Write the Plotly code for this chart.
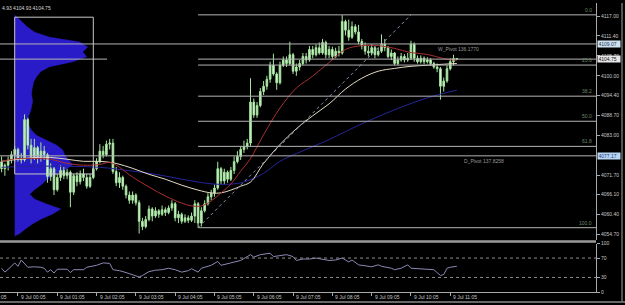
import pandas as pd
import plotly.graph_objects as go

# ---------------- data ----------------
BAR0 = pd.Timestamp("2021-07-08 23:40")
STEP = pd.Timedelta(minutes=5)

opens = [
4075.5,4073.5,4074.5,4076,4077.5,4079,4076.5,4076,4087.5,4080.2,
4077,4079.5,4077,4078.5,4077.5,4071.3,4073.5,4067.5,4071,4073,
4071.5,4072.5,4066.8,4071.5,4069.8,4072,4071,4068.5,4071,4073.5,
4075.5,4078.5,4077.5,4080.5,4080.8,4072.7,4069.5,4071,4068.5,4066,
4064.5,4066,4063.8,4058.5,4057,4059,4062,4060,4061.5,4060.5,
4061.8,4061,4062.3,4063.5,4059.5,4060.5,4058.5,4059.5,4058.8,4060,
4063.5,4058,4061.5,4063.5,4065.5,4066.5,4068,4073.5,4070,4072.5,
4070.5,4073,4075.5,4077,4079,4079.8,4080.8,4092.5,4088.8,4091.5,
4095.5,4097,4099,4103,4100.5,4098,4103,4104.5,4103.5,4106,
4101.3,4102.5,4103.5,4105.5,4104.5,4107.5,4106,4108,4106.5,4109.5,
4106,4107.5,4105.5,4107,4106.5,4115.5,4113,4111,4114,4112.5,
4109.8,4108.5,4107,4106.5,4108,4106,4107,4109,4108,4105.5,
4106.5,4103.5,4104.5,4105.5,4104.5,4105,4109,4105,4104,4105,
4104,4104.5,4103.5,4102.5,4102,4097,4098.5,4102,4104,4104.93]
highs = [
4077,4075,4077,4078.5,4080,4079.5,4078,4089,4088,4082,
4082,4080,4081,4080,4078,4075,4074,4072,4074.5,4074,
4073.5,4073,4072,4072.5,4073,4073.5,4072,4072,4074.5,4076.5,
4080.5,4080,4081.5,4082,4082,4074,4072.5,4071.5,4069,4067,
4067,4066.5,4064.5,4059.5,4060,4063,4062.5,4062.5,4062,4063,
4062.5,4063,4064.5,4064,4061.5,4061,4060.5,4060.2,4061,4064.5,
4064,4062.5,4064.5,4066.5,4067.5,4069,4075.5,4074,4073.5,4073,
4074,4077,4078.5,4080,4081.5,4082,4099.3,4093.5,4092.5,4096.5,
4098.5,4100,4104,4106.3,4101,4104,4105.5,4105.5,4109.7,4106.5,
4103.5,4104.5,4106.5,4106.5,4108.5,4108.5,4109,4109.5,4110.5,4110,
4108.5,4108.3,4108,4108.5,4117.3,4116,4116,4115.5,4114.7,4114.5,
4110.5,4109.5,4108.5,4109,4108.5,4108,4111.8,4110.5,4108.5,4107.5,
4106.8,4105.5,4106.5,4106.2,4106.5,4110,4109.5,4105.8,4105.8,4105.5,
4105.3,4105,4104,4103.5,4102.5,4099.5,4103,4105,4106,4104.93]
lows = [
4072.5,4071.5,4073,4075,4075.5,4075.5,4075,4075.5,4079,4075,
4076,4075,4075.5,4076,4069.5,4070,4066,4067,4070,4070.5,
4070.5,4062.5,4066,4068.5,4069,4070,4067.8,4068,4070.5,4073,
4075,4076.5,4077,4079,4072,4068.5,4068,4067.5,4065,4063.5,
4063.5,4063,4055,4056,4056.5,4058.5,4058.5,4059.5,4059.5,4060,
4060,4060.5,4061.5,4058.5,4058,4057.8,4058,4058,4058.3,4058,
4056.7,4057,4061,4063,4064.5,4065.5,4067.5,4069,4069,4069.5,
4070,4072,4075,4076,4078,4079,4080,4088,4088,4091,
4094.5,4096,4098,4100,4096,4097.5,4102.5,4102.5,4103,4100.5,
4100,4101.5,4103,4103.5,4104,4105,4105.5,4106,4106,4105,
4105,4104.8,4105,4105.5,4106,4111.5,4110,4110.5,4111.8,4109,
4107.5,4106,4105.5,4105.8,4105,4105.5,4106.5,4107,4105,4104.5,
4103,4103,4104,4103.8,4104,4104.5,4104,4103.5,4103.5,4103.3,
4103.5,4103,4102,4101,4093.2,4095.5,4098,4101.5,4103,4104.75]
closes = [
4073.5,4074.5,4076,4077.5,4079,4076.5,4076,4087.5,4080.2,4077,
4079.5,4077,4078.5,4077.5,4071.3,4073.5,4067.5,4071,4073,4071.5,
4072.5,4066.8,4071.5,4069.8,4072,4071,4068.5,4071,4073.5,4075.5,
4078.5,4077.5,4080.5,4080.8,4072.7,4069.5,4071,4068.5,4066,4064.5,
4066,4063.8,4058.5,4057,4059,4062,4060,4061.5,4060.5,4061.8,
4061,4062.3,4063.5,4059.5,4060.5,4058.5,4059.5,4058.8,4060,4063.5,
4058,4061.5,4063.5,4065.5,4066.5,4068,4073.5,4070,4072.5,4070.5,
4073,4075.5,4077,4079,4079.8,4080.8,4092.5,4088.8,4091.5,4095.5,
4097,4099,4103,4100.5,4098,4103,4104.5,4103.5,4106,4101.3,
4102.5,4103.5,4105.5,4104.5,4107.5,4106,4108,4106.5,4109.5,4106,
4107.5,4105.5,4107,4106.5,4115.5,4113,4111,4114,4112.5,4109.8,
4108.5,4107,4106.5,4108,4106,4107,4109,4108,4105.5,4106.5,
4103.5,4104.5,4105.5,4104.5,4105,4109,4105,4104,4105,4104,
4104.5,4103.5,4102.5,4102,4097,4098.5,4102,4104,4104.93,4104.75]

# moving averages (bar index -> value)
ma_red_idx = [0,5,10,15,20,25,30,33,36,40,45,50,55,58,61,64,67,70,73,76,80,85,90,95,100,105,110,115,120,125,130,135,139]
ma_red_val = [4075.6,4076.4,4076.4,4076.2,4075.0,4074.5,4074.7,4075.3,4073.9,4071.1,4068.3,4065.7,4063.7,4062.9,4062.9,4064.3,
              4066.6,4069.1,4072.8,4076.4,4083.2,4090.8,4096.5,4099.9,4103.8,4107.5,4108.6,4108.6,4107.8,4106.6,4106.1,4104.9,4104.4]
ma_tan_idx = [0,5,10,15,20,25,30,35,40,45,50,55,60,64,67,70,73,76,80,85,90,95,100,105,110,115,120,125,130,135,139]
ma_tan_val = [4075.6,4076.2,4076.7,4076.7,4076.2,4075.6,4075.6,4075.0,4073.6,4071.9,4070.5,4068.8,4067.4,4066.6,4066.6,4067.4,
              4068.5,4069.7,4075.0,4080.4,4084.9,4088.6,4092.0,4096.2,4099.3,4101.3,4102.1,4102.7,4103.0,4103.3,4103.5]
ma_blue_idx = [0,10,20,30,40,45,50,55,60,65,70,74,80,85,90,95,100,110,120,130,139]
ma_blue_val = [4073.9,4074.2,4074.2,4073.9,4072.8,4072.2,4071.4,4070.5,4069.7,4069.1,4069.1,4069.7,4072.2,4075.6,4077.8,
               4079.8,4081.8,4086.3,4090.3,4093.7,4095.9]

rsi_idx = [0,1,3,4,5,6,8,10,12,13,14,15,16,17,20,21,22,24,25,26,29,31,33,34,36,38,40,42,43,45,
           47,49,51,53,55,57,58,60,61,64,66,67,70,73,76,77,79,82,83,85,87,89,90,92,94,96,98,100,102,104,
           106,107,109,112,113,115,116,119,120,122,124,125,128,130,132,134,135,136,137,139]
rsi_val = [49,41,53,60,53,66,51,52,51,49,41,46,39,47,47,40,46,47,46,51,55,60,59,46,44,40,36,31,34,42,
           45,46,49,46,41,44,48,41,49,55,63,55,60,65,77,72,77,80,73,75,77,73,65,68,68,70,68,65,66,70,
           62,66,56,54,52,56,53,49,46,49,56,49,48,48,46,34,36,49,51,53]

# volume profile
profile_price = [4117.3,4116.6,4115.2,4113.8,4112.4,4111.0,4109.6,4108.2,4106.8,4105.4,4104.0,4102.6,4101.2,4099.8,4098.4,
                 4097.0,4095.6,4094.2,4092.8,4091.4,4090.0,4088.6,4087.2,4085.8,4084.4,4083.0,4081.6,4080.2,4078.8,4077.4,
                 4076.0,4074.6,4073.2,4071.8,4070.4,4069.0,4067.6,4066.2,4064.8,4063.4,4062.0,4060.6,4059.2,4057.8,4056.4,
                 4055.0,4054.3]
profile_vol = [0,3,8,13,20,35,65,73,68,72,58,35,26,22,19,18,17,17,18,17,16,14,13,14,17,22,32,42,48,50,54,
               58,50,40,32,27,20,15,20,32,46,38,27,18,11,5,0]
profile_box = dict(t0="2021-07-09 00:00", t1="2021-07-09 02:00", hi=4116.7, lo=4072.0)

fib_levels = [4117.37, 4103.05, 4094.18, 4087.03, 4079.87, 4056.68]
fib_labels = ["0.0", "23.6", "38.2", "50.0", "61.8", "100.0"]
fib_start = "2021-07-09 04:40"
fib_end = "2021-07-09 10:05"

w_pivot = 4109.07
d_pivot = 4077.17
bid = 4104.75
bid_left_end = "2021-07-09 02:21"

price_ticks = [4117.00, 4111.40, 4105.70, 4100.00, 4094.40, 4088.70, 4083.00, 4071.70, 4066.10, 4060.40, 4054.70]
hour_ticks = pd.date_range("2021-07-09 00:05", "2021-07-09 11:05", freq="h")

# ---------------- figure ----------------
times = [BAR0 + i * STEP for i in range(len(closes))]
t_start = BAR0 - 0.49 * STEP
t_end = BAR0 + 181.5 * STEP
span = (t_end - t_start)
PROFILE_SPAN = 596.0
frac = (pd.Timestamp(profile_box["t0"]) - t_start) / span
prof_range = [-frac * PROFILE_SPAN, (1 - frac) * PROFILE_SPAN]

FONT = "Liberation Sans"
GREY = "#a8a8a8"
fig = go.Figure()

fig.add_trace(go.Scatter(x=profile_vol, y=profile_price, mode="lines", fill="tozerox",
                         line=dict(color="#2a1bc8", width=0.5), fillcolor="#2a1bc8",
                         xaxis="x", yaxis="y", hoverinfo="skip", showlegend=False))

fig.add_trace(go.Candlestick(x=times, open=opens, high=highs, low=lows, close=closes,
                             xaxis="x2", yaxis="y",
                             increasing=dict(line=dict(color="#a6e6a0", width=1), fillcolor="#c6f0c0"),
                             decreasing=dict(line=dict(color="#a6e6a0", width=1), fillcolor="#e6f8e0"),
                             whiskerwidth=0, hoverinfo="skip", showlegend=False))

def ma_trace(idx, val, color):
    return go.Scatter(x=[times[i] for i in idx], y=val, mode="lines", line=dict(color=color, width=1, shape="spline"),
                      xaxis="x2", yaxis="y", hoverinfo="skip", showlegend=False)

fig.add_trace(ma_trace(ma_blue_idx, ma_blue_val, "#25259a"))
fig.add_trace(ma_trace(ma_tan_idx, ma_tan_val, "#e6dcc4"))
fig.add_trace(ma_trace(ma_red_idx, ma_red_val, "#a83030"))

# fibo diagonal
fig.add_trace(go.Scatter(x=[fib_start, fib_end], y=[fib_levels[-1], fib_levels[0]], mode="lines",
                         line=dict(color="#8890b0", width=1, dash="dot"),
                         xaxis="x2", yaxis="y", hoverinfo="skip", showlegend=False))

fig.add_trace(go.Scatter(x=[times[i] for i in rsi_idx], y=rsi_val, mode="lines",
                         line=dict(color="#8a8ab4", width=1),
                         xaxis="x3", yaxis="y2", hoverinfo="skip", showlegend=False))

shapes = []
for lvl in (w_pivot, d_pivot):
    shapes.append(dict(type="line", xref="paper", yref="y", x0=0, x1=1, y0=lvl, y1=lvl,
                       line=dict(color="#b4b4b4", width=1)))
shapes.append(dict(type="line", xref="x2", yref="y", x0=t_start, x1=bid_left_end, y0=bid, y1=bid,
                   line=dict(color="#b4b4b4", width=1)))
shapes.append(dict(type="line", xref="x2", yref="y", x0=fib_start, x1=t_end, y0=bid, y1=bid,
                   line=dict(color="#b4b4b4", width=1)))
for lvl in fib_levels:
    shapes.append(dict(type="line", xref="x2", yref="y", x0=fib_start, x1=t_end, y0=lvl, y1=lvl,
                       line=dict(color="#b4b4b4", width=1)))
shapes.append(dict(type="rect", xref="x2", yref="y", x0=profile_box["t0"], x1=profile_box["t1"],
                   y0=profile_box["lo"], y1=profile_box["hi"], line=dict(color="#c8c8c8", width=1)))
for lvl in (70, 30):
    shapes.append(dict(type="line", xref="paper", yref="y2", x0=0, x1=1, y0=lvl, y1=lvl,
                       line=dict(color="#8c8c8c", width=1, dash="dot")))
shapes.append(dict(type="line", xref="paper", yref="paper", x0=0, x1=1, y0=51 / 292, y1=51 / 292,
                   line=dict(color="#9a9a9a", width=2.5)))
shapes.append(dict(type="line", xref="paper", yref="paper", x0=0, x1=625 / 596, y0=-10 / 292, y1=-10 / 292,
                   line=dict(color="#8a8a8a", width=1.5)))
shapes.append(dict(type="line", xref="paper", yref="paper", x0=622 / 596, x1=622 / 596, y0=-10 / 292, y1=1,
                   line=dict(color="#707070", width=1.5)))

ann = []
ann.append(dict(text="4.93 4104.93 4104.75", xref="paper", yref="paper", x=0, y=1, xanchor="left", yanchor="top",
                showarrow=False, font=dict(family=FONT, size=5, color="#d8d8d8")))
for lvl, lab in zip(fib_levels, fib_labels):
    ann.append(dict(text=lab, xref="paper", yref="y", x=1, y=lvl, xanchor="right", yanchor="bottom", xshift=-2,
                    showarrow=False, font=dict(family=FONT, size=5, color="#6e8a6e")))
ann.append(dict(text="W_Pivot 136.1770", xref="x2", yref="y", x="2021-07-09 10:43", y=w_pivot,
                xanchor="left", yanchor="top", showarrow=False, font=dict(family=FONT, size=5, color="#9a9a9a")))
ann.append(dict(text="D_Pivot 137.8258", xref="x2", yref="y", x="2021-07-09 11:23", y=d_pivot,
                xanchor="left", yanchor="top", showarrow=False, font=dict(family=FONT, size=5, color="#9a9a9a")))
for val, bg, fc in ((w_pivot, "#cfe2f0", "#203050"), (bid, "#e6e6e6", "#101010"), (d_pivot, "#b8d6f4", "#203a80")):
    ann.append(dict(text=f"{val:.2f}", xref="paper", yref="y", x=1, y=val, xanchor="left", yanchor="middle",
                    xshift=1, showarrow=False, bgcolor=bg, borderpad=0.5, width=21, height=5, align="left",
                    font=dict(family=FONT, size=5, color=fc)))
for t in hour_ticks:
    ann.append(dict(text=t.strftime("%-d %b %H:%M"), xref="x3", yref="paper", x=t, y=-5 / 292,
                    xanchor="left", yanchor="middle", xshift=1, showarrow=False,
                    font=dict(family=FONT, size=5, color="#c4c4c4")))
prev_tick = hour_ticks[0] - pd.Timedelta(hours=1)
ann.append(dict(text=prev_tick.strftime("%-d %b %H:%M"), xref="paper", yref="paper",
                x=(prev_tick - t_start) / span, y=-5 / 292, xanchor="left", yanchor="middle", xshift=1,
                showarrow=False, font=dict(family=FONT, size=5, color="#c4c4c4")))

fig.update_layout(
    width=625, height=305, margin=dict(l=0, r=29, t=0, b=13),
    paper_bgcolor="black", plot_bgcolor="black", hovermode=False, showlegend=False,
    font=dict(family=FONT, size=5, color="#c4c4c4"),
    xaxis=dict(domain=[0, 1], anchor="y", range=prof_range, visible=False, fixedrange=True),
    xaxis2=dict(overlaying="x", anchor="y", type="date", range=[t_start, t_end], visible=False,
                rangeslider=dict(visible=False)),
    xaxis3=dict(domain=[0, 1], anchor="y2", type="date", range=[t_start, t_end], tickvals=list(hour_ticks),
                showticklabels=False, ticks="outside", ticklen=3, tickcolor=GREY, showline=True,
                linecolor=GREY, linewidth=1, showgrid=False, zeroline=False),
    yaxis=dict(domain=[53 / 292, 1], anchor="x", side="right", range=[4053.30, 4120.75],
               tickvals=price_ticks, ticktext=[f"{v:.2f}" for v in price_ticks], ticks="outside", ticklen=3,
               tickcolor=GREY, showline=True, linecolor=GREY, showgrid=False, zeroline=False,
               tickfont=dict(family=FONT, size=5, color="#c8c8c8")),
    yaxis2=dict(domain=[0, 49 / 292], anchor="x3", side="right", range=[0, 100], tickvals=[0, 30, 70, 100],
                ticktext=["0", "30", "70", "100"], ticks="outside", ticklen=3, tickcolor=GREY, showline=True,
                linecolor=GREY, showgrid=False, zeroline=False, tickfont=dict(family=FONT, size=5, color="#c8c8c8")),
    shapes=shapes, annotations=ann,
)

fig.write_html("out.html")
